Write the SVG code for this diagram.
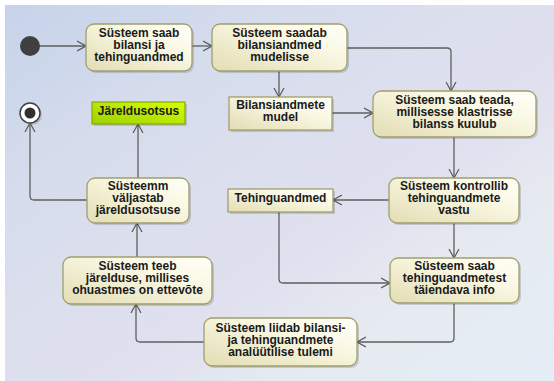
<svg xmlns="http://www.w3.org/2000/svg" width="554" height="381" viewBox="0 0 554 381">
<defs>
<linearGradient id="bg" x1="0" y1="0" x2="1" y2="1">
<stop offset="0" stop-color="#c6d3ea"/>
<stop offset="0.25" stop-color="#d5dcec"/>
<stop offset="0.45" stop-color="#dcdfee"/>
<stop offset="0.6" stop-color="#e0e0ef"/>
<stop offset="0.75" stop-color="#e6eaf0"/>
<stop offset="1" stop-color="#e4eef6"/>
</linearGradient>
<linearGradient id="act" x1="1" y1="0" x2="0" y2="1">
<stop offset="0" stop-color="#fffff8"/>
<stop offset="0.35" stop-color="#faf8e4"/>
<stop offset="1" stop-color="#e2ddb4"/>
</linearGradient>
<linearGradient id="grn" x1="1" y1="0" x2="0" y2="1">
<stop offset="0" stop-color="#d4ff00"/>
<stop offset="1" stop-color="#9ed000"/>
</linearGradient>
<marker id="ar" viewBox="0 0 10 12" refX="9" refY="6" markerWidth="10" markerHeight="12" markerUnits="userSpaceOnUse" orient="auto">
<path d="M0,1 L9,6 L0,11" fill="none" stroke="#5a5a5a" stroke-width="1.2"/>
</marker>
</defs>
<style>
.act{fill:url(#act);stroke:#a09f6c;stroke-width:1.3}
.obj{fill:url(#act);stroke:#a09f6c;stroke-width:1.3}
.sh{fill:#000;opacity:0.14}
.t{font-family:"Liberation Sans",Arial,sans-serif;font-weight:bold;font-size:12px;fill:#1a1a1a;text-anchor:middle}
.c{fill:none;stroke:#5f5f5f;stroke-width:1.3;marker-end:url(#ar)}
</style>
<rect x="0" y="0" width="554" height="381" fill="#ffffff"/>
<rect x="5" y="5" width="549" height="376" fill="url(#bg)"/>

<g id="connectors">
<path class="c" d="M39,46 H86"/>
<path class="c" d="M192,46 H212"/>
<path class="c" d="M279,71 V97"/>
<path class="c" d="M347,48 H447 Q451,48 451,52 V91"/>
<path class="c" d="M332,113 H373"/>
<path class="c" d="M454,137 V178"/>
<path class="c" d="M389,200 H333"/>
<path class="c" d="M454,223 V258"/>
<path class="c" d="M279,212 V279 Q279,283 283,283 H390"/>
<path class="c" d="M454,303 V338 Q454,342 450,342 H357"/>
<path class="c" d="M204,342 H140 Q136,342 136,338 V304"/>
<path class="c" d="M137,257 V223"/>
<path class="c" d="M138,178 V124"/>
<path class="c" d="M87,200 H34 Q30,200 30,196 V123"/>
</g>

<g id="initial">
<circle cx="30" cy="46" r="10" fill="#404040"/>
</g>
<g id="final">
<circle cx="32" cy="115" r="10" fill="#888" opacity="0.4"/>
<circle cx="30" cy="113" r="10" fill="#ffffff" stroke="#404040" stroke-width="1.5"/>
<circle cx="30" cy="113" r="5.5" fill="#303030"/>
</g>

<g id="n1">
<rect class="sh" x="88" y="26" width="106" height="47" rx="8"/>
<rect class="act" x="86" y="24" width="106" height="47" rx="8"/>
<text class="t" x="139" y="37">Süsteem saab</text>
<text class="t" x="139" y="49">bilansi ja</text>
<text class="t" x="139" y="61">tehinguandmed</text>
</g>
<g id="n2">
<rect class="sh" x="214" y="26" width="135" height="47" rx="8"/>
<rect class="act" x="212" y="24" width="135" height="47" rx="8"/>
<text class="t" x="279.5" y="37">Süsteem saadab</text>
<text class="t" x="279.5" y="49">bilansiandmed</text>
<text class="t" x="279.5" y="61">mudelisse</text>
</g>
<g id="o1">
<rect class="sh" x="231" y="99" width="103" height="33"/>
<rect class="obj" x="229" y="97" width="103" height="33"/>
<text class="t" x="280.5" y="109">Bilansiandmete</text>
<text class="t" x="280.5" y="121">mudel</text>
</g>
<g id="res">
<rect class="sh" x="94" y="104" width="93" height="22"/>
<rect x="92" y="102" width="93" height="22" fill="url(#grn)" stroke="#88a800" stroke-width="1.2"/>
<text class="t" x="138.5" y="114.5">Järeldusotsus</text>
</g>
<g id="n7">
<rect class="sh" x="375" y="93" width="163" height="46" rx="8"/>
<rect class="act" x="373" y="91" width="163" height="46" rx="8"/>
<text class="t" x="454.5" y="103.5">Süsteem saab teada,</text>
<text class="t" x="454.5" y="115.5">millisesse klastrisse</text>
<text class="t" x="454.5" y="127.5">bilanss kuulub</text>
</g>
<g id="n8">
<rect class="sh" x="391" y="180" width="130" height="45" rx="8"/>
<rect class="act" x="389" y="178" width="130" height="45" rx="8"/>
<text class="t" x="454" y="190">Süsteem kontrollib</text>
<text class="t" x="454" y="202">tehinguandmete</text>
<text class="t" x="454" y="214">vastu</text>
</g>
<g id="o2">
<rect class="sh" x="230" y="191" width="105" height="23"/>
<rect class="obj" x="228" y="189" width="105" height="23"/>
<text class="t" x="280.5" y="202">Tehinguandmed</text>
</g>
<g id="n10">
<rect class="sh" x="392" y="260" width="129" height="45" rx="8"/>
<rect class="act" x="390" y="258" width="129" height="45" rx="8"/>
<text class="t" x="454.5" y="270">Süsteem saab</text>
<text class="t" x="454.5" y="282">tehinguandmetest</text>
<text class="t" x="454.5" y="294">täiendava info</text>
</g>
<g id="n11">
<rect class="sh" x="206" y="320" width="153" height="48" rx="8"/>
<rect class="act" x="204" y="318" width="153" height="48" rx="8"/>
<text class="t" x="280.5" y="331.5">Süsteem liidab bilansi-</text>
<text class="t" x="280.5" y="343.5">ja tehinguandmete</text>
<text class="t" x="280.5" y="355.5">analüütilise tulemi</text>
</g>
<g id="n12">
<rect class="sh" x="65" y="259" width="149" height="47" rx="8"/>
<rect class="act" x="63" y="257" width="149" height="47" rx="8"/>
<text class="t" x="137.5" y="270">Süsteem teeb</text>
<text class="t" x="137.5" y="282">järelduse, millises</text>
<text class="t" x="137.5" y="294">ohuastmes on ettevõte</text>
</g>
<g id="n13">
<rect class="sh" x="89" y="180" width="102" height="45" rx="8"/>
<rect class="act" x="87" y="178" width="102" height="45" rx="8"/>
<text class="t" x="138" y="190">Süsteemm</text>
<text class="t" x="138" y="202">väljastab</text>
<text class="t" x="138" y="214">järeldusotsuse</text>
</g>
</svg>
